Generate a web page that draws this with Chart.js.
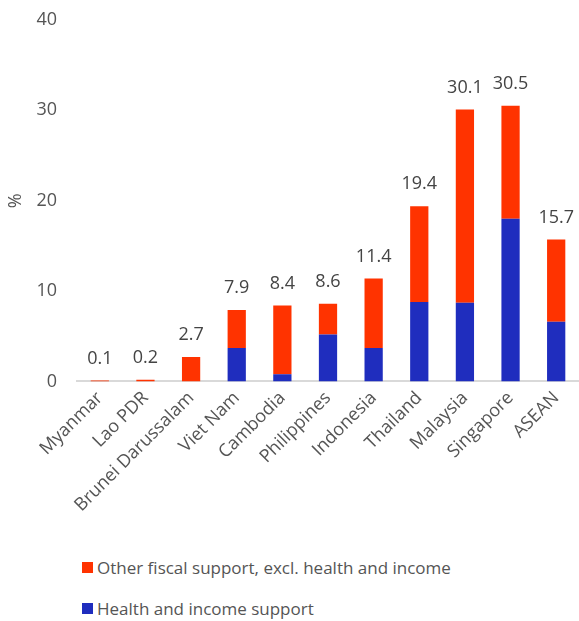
<!DOCTYPE html>
<html>
<head>
<meta charset="utf-8">
<script src="https://cdn.jsdelivr.net/npm/chart.js@4"></script>
<style>
  html, body { margin: 0; padding: 0; background: #fff; }
  #wrap { position: relative; width: 579px; height: 621px; font-family: "Open Sans", "Noto Sans", sans-serif; }
  #box { position: absolute; left: 0; top: 0; width: 579px; height: 522px; }
  #legend { position: absolute; left: 82px; top: 555px; color: #555; font-size: 17px; }
  #legend .item { display: flex; align-items: center; height: 24px; margin-bottom: 17px; }
  #legend .sw { width: 11px; height: 11px; margin-right: 4px; }
</style>
</head>
<body>
<div id="wrap">
  <div id="box"><canvas id="chart"></canvas></div>
  <div id="legend"></div>
</div>
<script>
// Fiscal support by country, % of GDP
const countries = ['Myanmar', 'Lao PDR', 'Brunei Darussalam', 'Viet Nam', 'Cambodia',
  'Philippines', 'Indonesia', 'Thailand', 'Malaysia', 'Singapore', 'ASEAN'];
const healthIncome = [0, 0, 0, 3.7, 0.8, 5.2, 3.7, 8.8, 8.7, 18.0, 6.6];
const otherFiscal  = [0.1, 0.2, 2.7, 4.2, 7.6, 3.4, 7.7, 10.6, 21.4, 12.5, 9.1];
const totals       = [0.1, 0.2, 2.7, 7.9, 8.4, 8.6, 11.4, 19.4, 30.1, 30.5, 15.7];
const yTicks       = [0, 10, 20, 30, 40];

const FONT = '"Open Sans", "Noto Sans", sans-serif';
const TEXT = '#555';

// totals written above each stacked bar
const totalLabels = {
  id: 'totalLabels',
  afterDatasetsDraw(chart) {
    const ctx = chart.ctx;
    const meta = chart.getDatasetMeta(1);
    ctx.save();
    ctx.font = '18px ' + FONT;
    ctx.fillStyle = '#444';
    ctx.textAlign = 'center';
    ctx.textBaseline = 'bottom';
    meta.data.forEach((bar, i) => {
      ctx.fillText(totals[i].toFixed(1), bar.x, bar.y - 13);
    });
    ctx.restore();
  }
};

const chart = new Chart(document.getElementById('chart'), {
  type: 'bar',
  data: {
    labels: countries,
    datasets: [
      {
        label: 'Health and income support',
        data: healthIncome,
        backgroundColor: '#1f2dbe'
      },
      {
        label: 'Other fiscal support, excl. health and income',
        data: otherFiscal,
        backgroundColor: '#ff3300'
      }
    ]
  },
  options: {
    responsive: true,
    maintainAspectRatio: false,
    animation: false,
    datasets: { bar: { categoryPercentage: 1, barPercentage: 0.4 } },
    layout: { padding: { top: 20, right: 0, left: 0, bottom: 0 } },
    scales: {
      x: {
        stacked: true,
        grid: { display: false, drawTicks: false },
        border: { color: '#d9d9d9', width: 2 },
        // rotated labels may hang past the left edge of the plot
        afterFit: s => { s.paddingLeft = 0; s.paddingRight = 0; },
        ticks: {
          autoSkip: false,
          minRotation: 45, maxRotation: 45, padding: 6,
          color: TEXT, font: { family: FONT, size: 18 }
        }
      },
      y: {
        stacked: true,
        min: 0, max: 40,
        afterBuildTicks: axis => { axis.ticks = yTicks.map(v => ({ value: v })); },
        afterFit: s => { s.width = 77; s.paddingTop = 0; s.paddingBottom = 0; },
        grid: { display: false, drawTicks: false },
        border: { display: false },
        title: { display: true, text: '%', color: TEXT, font: { family: FONT, size: 18 }, padding: { top: 5, bottom: 10 } },
        ticks: { color: TEXT, padding: 20, font: { family: FONT, size: 18 } }
      }
    },
    plugins: {
      legend: { display: false },
      tooltip: { enabled: false }
    }
  },
  plugins: [totalLabels]
});

// legend: other fiscal support listed first
document.getElementById('legend').innerHTML = [...chart.data.datasets].reverse().map(ds => `
  <div class="item"><span class="sw" style="background:${ds.backgroundColor};"></span>${ds.label}</div>`).join('');
</script>
</body>
</html>
